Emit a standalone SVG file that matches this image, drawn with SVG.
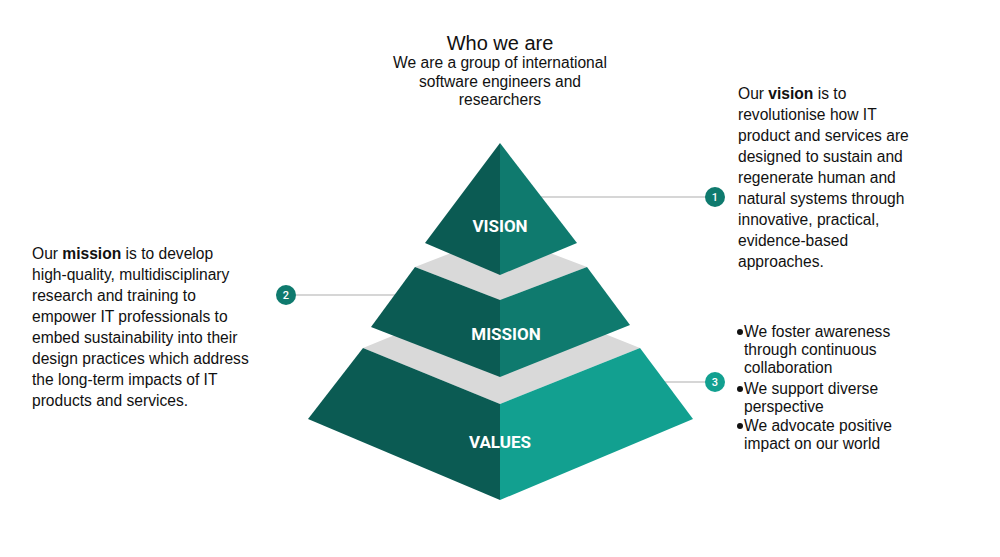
<svg xmlns="http://www.w3.org/2000/svg" width="1000" height="557" viewBox="0 0 1000 557">
<style>
.t{font-family:"Liberation Sans",Arial,sans-serif;font-size:15.6px;fill:#111}
.h{font-family:"Liberation Sans",Arial,sans-serif;font-size:20px;fill:#111}
.lbl{font-family:Roboto,"Liberation Sans",sans-serif;font-weight:bold;font-size:17px;fill:#fff;text-anchor:middle}
.num{font-family:Roboto,"Liberation Sans",sans-serif;font-size:11px;fill:#fff;text-anchor:middle;font-weight:500}
.dk{fill:#0b5b53}
.md{fill:#0f7a6e}
.lt{fill:#12a090}
.gr{fill:#d9d9d9}
.ln{stroke:#c8c8c8;stroke-width:1.3;fill:none}
</style>
<rect width="1000" height="557" fill="#fff"/>
<g id="connectors">
<line class="ln" x1="540" y1="197" x2="706" y2="197"/>
<line class="ln" x1="296" y1="295" x2="396" y2="295"/>
<line class="ln" x1="664" y1="382" x2="706" y2="382"/>
</g>
<g id="values">
<polygon class="gr" points="363,348 500,404 640,348 500,292"/>
<polygon class="dk" points="363,348 500,404 500,500 308,419"/>
<polygon class="lt" points="500,404 640,348 693,419 500,500"/>
<text class="lbl" x="500" y="448">VALUES</text>
</g>
<g id="mission">
<polygon class="gr" points="415,267 500,300 587,267 500,234"/>
<polygon class="dk" points="415,267 500,300 500,377 371,327"/>
<polygon class="md" points="500,300 587,267 630,325 500,377"/>
<text class="lbl" x="506" y="340">MISSION</text>
</g>
<g id="vision">
<polygon class="dk" points="500,143 425,243 500,275"/>
<polygon class="md" points="500,143 577,243 500,275"/>
<text class="lbl" x="500" y="232">VISION</text>
</g>
<g id="badge1">
<circle class="md" cx="715" cy="197" r="10"/>
<text class="num" x="715" y="201">1</text>
</g>
<g id="badge2">
<circle class="md" cx="286" cy="295" r="10"/>
<text class="num" x="286" y="299">2</text>
</g>
<g id="badge3">
<circle class="lt" cx="715" cy="382" r="10"/>
<text class="num" x="715" y="386">3</text>
</g>
<g id="who">
<text class="h" x="500" y="50" text-anchor="middle">Who we are</text>
<text class="t" text-anchor="middle"><tspan x="500" y="68">We are a group of international</tspan><tspan x="500" y="87">software engineers and</tspan><tspan x="500" y="105">researchers</tspan></text>
</g>
<g id="vision-text">
<text class="t"><tspan x="738" y="99">Our <tspan font-weight="bold">vision</tspan> is to</tspan><tspan x="738" y="120">revolutionise how IT</tspan><tspan x="738" y="141">product and services are</tspan><tspan x="738" y="162">designed to sustain and</tspan><tspan x="738" y="183">regenerate human and</tspan><tspan x="738" y="204">natural systems through</tspan><tspan x="738" y="225">innovative, practical,</tspan><tspan x="738" y="246">evidence-based</tspan><tspan x="738" y="267">approaches.</tspan></text>
</g>
<g id="mission-text">
<text class="t"><tspan x="32" y="259">Our <tspan font-weight="bold">mission</tspan> is to develop</tspan><tspan x="32" y="280">high-quality, multidisciplinary</tspan><tspan x="32" y="301">research and training to</tspan><tspan x="32" y="322">empower IT professionals to</tspan><tspan x="32" y="343">embed sustainability into their</tspan><tspan x="32" y="364">design practices which address</tspan><tspan x="32" y="385">the long-term impacts of IT</tspan><tspan x="32" y="406">products and services.</tspan></text>
</g>
<g id="values-text">
<circle cx="740" cy="332" r="3" fill="#111"/>
<circle cx="740" cy="389" r="3" fill="#111"/>
<circle cx="740" cy="426" r="3" fill="#111"/>
<text class="t"><tspan x="744" y="337">We foster awareness</tspan><tspan x="744" y="355">through continuous</tspan><tspan x="744" y="373">collaboration</tspan><tspan x="744" y="394">We support diverse</tspan><tspan x="744" y="412">perspective</tspan><tspan x="744" y="431">We advocate positive</tspan><tspan x="744" y="449">impact on our world</tspan></text>
</g>
</svg>
